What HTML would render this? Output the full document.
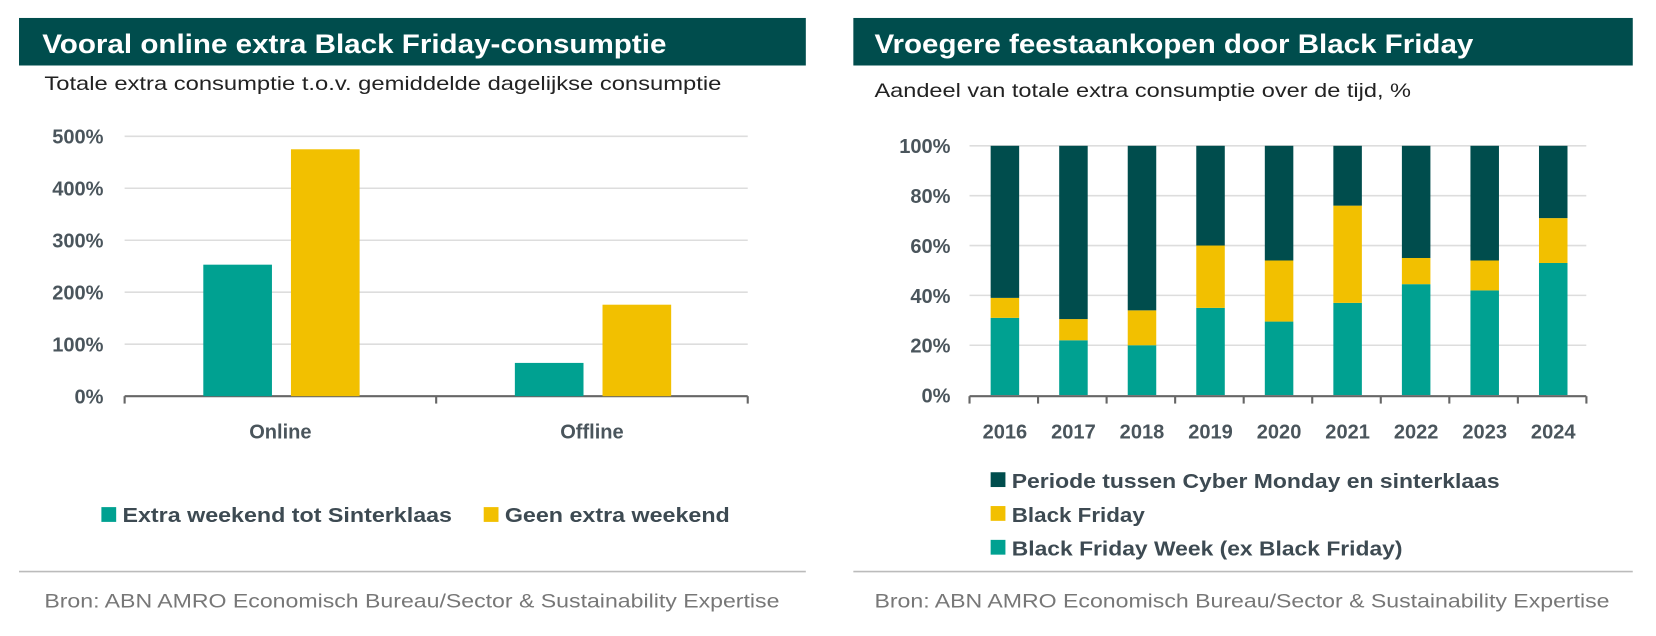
<!DOCTYPE html>
<html><head><meta charset="utf-8"><style>
body{margin:0;width:1656px;height:636px;background:#fff;font-family:"Liberation Sans",sans-serif;overflow:hidden}
svg{position:absolute;left:0;top:0}
</style></head><body>
<svg width="1656" height="636" viewBox="0 0 1568 602" preserveAspectRatio="none">
<g>
<rect x="18" y="17" width="745" height="45" fill="#004d4d"/>
<text x="40" y="50" fill="#fff" font-size="25" font-weight="bold" textLength="591" lengthAdjust="spacingAndGlyphs">Vooral online extra Black Friday-consumptie</text>
<text x="42" y="85" fill="#222" font-size="18" textLength="641" lengthAdjust="spacingAndGlyphs">Totale extra consumptie t.o.v. gemiddelde dagelijkse consumptie</text>
<g id="lg"></g>
<rect x="96" y="480" width="14" height="14" fill="#00a191"/>
<text x="116" y="494" font-size="19" font-weight="bold" fill="#3d4a52" textLength="312" lengthAdjust="spacingAndGlyphs">Extra weekend tot Sinterklaas</text>
<rect x="458" y="480" width="14" height="14" fill="#f2c000"/>
<text x="478" y="494" font-size="19" font-weight="bold" fill="#3d4a52" textLength="213" lengthAdjust="spacingAndGlyphs">Geen extra weekend</text>
<line x1="18" y1="541" x2="763" y2="541" stroke="#bbb" stroke-width="1.5"/>
<text x="42" y="575" font-size="18" fill="#777" textLength="696" lengthAdjust="spacingAndGlyphs">Bron: ABN AMRO Economisch Bureau/Sector &amp; Sustainability Expertise</text>
</g>
<g>
<rect x="808" y="17" width="738" height="45" fill="#004d4d"/>
<text x="828" y="50" fill="#fff" font-size="25" font-weight="bold" textLength="567" lengthAdjust="spacingAndGlyphs">Vroegere feestaankopen door Black Friday</text>
<text x="828" y="92" fill="#222" font-size="18" textLength="508" lengthAdjust="spacingAndGlyphs">Aandeel van totale extra consumptie over de tijd, %</text>
<g id="rg"></g>
<rect x="938" y="447" width="14" height="14" fill="#004d4d"/>
<text x="958" y="462" font-size="19" font-weight="bold" fill="#3d4a52" textLength="462" lengthAdjust="spacingAndGlyphs">Periode tussen Cyber Monday en sinterklaas</text>
<rect x="938" y="479" width="14" height="14" fill="#f2c000"/>
<text x="958" y="494" font-size="19" font-weight="bold" fill="#3d4a52" textLength="126" lengthAdjust="spacingAndGlyphs">Black Friday</text>
<rect x="938" y="511" width="14" height="14" fill="#00a191"/>
<text x="958" y="526" font-size="19" font-weight="bold" fill="#3d4a52" textLength="370" lengthAdjust="spacingAndGlyphs">Black Friday Week (ex Black Friday)</text>
<line x1="808" y1="541" x2="1546" y2="541" stroke="#bbb" stroke-width="1.5"/>
<text x="828" y="575" font-size="18" fill="#777" textLength="696" lengthAdjust="spacingAndGlyphs">Bron: ABN AMRO Economisch Bureau/Sector &amp; Sustainability Expertise</text>
</g>
</svg>
<script>
const leftCats=["Online","Offline"];
const leftExtra=[253,64];
const leftGeen=[475,176];
const leftTicks=[0,100,200,300,400,500];
const years=["2016","2017","2018","2019","2020","2021","2022","2023","2024"];
const bfWeek=[31,22,20,35,29.5,37,44.5,42,53];
const blackFriday=[8,8.5,14,25,24.5,39,10.5,12,18];
const periode=[61,69.5,66,40,46,24,45,46,29];
const rightTicks=[0,20,40,60,80,100];
const NS="http://www.w3.org/2000/svg";
function mk(p,t,a,txt){const e=document.createElementNS(NS,t);for(const k in a)e.setAttribute(k,a[k]);if(txt!=null)e.textContent=txt;p.appendChild(e);return e;}
const lg=document.getElementById('lg');
const ly=v=>375-v*(246/500);
leftTicks.forEach(t=>{
 if(t>0){const l=mk(lg,'line',{x1:118,x2:708,y1:ly(t),y2:ly(t),stroke:'#ddd','stroke-width':1.5});
 
 }
 const tx=mk(lg,'text',{x:98,y:ly(t)+7,'text-anchor':'end','font-size':19,'font-weight':'bold',fill:'#4a555c'},t+'%');
 
 
});
const la=mk(lg,'line',{x1:118,x2:708,y1:375,y2:375,stroke:'#666','stroke-width':2});


[118,413,708].forEach(x=>{const t=mk(lg,'line',{x1:x,x2:x,y1:375,y2:382,stroke:'#666','stroke-width':2});
 
 });
leftCats.forEach((c,i)=>{
 const cx=118+295*i+147.5;
 const b1=mk(lg,'rect',{x:cx-73,y:ly(leftExtra[i]),width:65,height:375-ly(leftExtra[i]),fill:'#00a191'});
 
 
 const b2=mk(lg,'rect',{x:cx+10,y:ly(leftGeen[i]),width:65,height:375-ly(leftGeen[i]),fill:'#f2c000'});
 
 
 const t=mk(lg,'text',{x:cx,y:415,'text-anchor':'middle','font-size':19,'font-weight':'bold',fill:'#4a555c'},c);
 
 
});
const rg=document.getElementById('rg');
const ry=v=>374-v*2.36;
rightTicks.forEach(t=>{
 if(t>0){const l=mk(rg,'line',{x1:918,x2:1502,y1:ry(t),y2:ry(t),stroke:'#ddd','stroke-width':1.5});
 
 }
 const tx=mk(rg,'text',{x:900,y:ry(t)+7,'text-anchor':'end','font-size':19,'font-weight':'bold',fill:'#4a555c'},t+'%');
 
 
});
years.forEach((y,i)=>{
 const x=938+64.9*i;
 let base=0;
 [[bfWeek,'#00a191','bf-week'],[blackFriday,'#f2c000','black-friday'],[periode,'#004d4d','periode']].forEach(([arr,col,n])=>{
  const v=arr[i];
  const r=mk(rg,'rect',{x:x,y:ry(base+v),width:27,height:ry(base)-ry(base+v),fill:col});
  
  
  base+=v;
 });
 const t=mk(rg,'text',{x:x+13.5,y:415,'text-anchor':'middle','font-size':19,'font-weight':'bold',fill:'#4a555c'},y);
 
 
});
const ra=mk(rg,'line',{x1:918,x2:1502,y1:375,y2:375,stroke:'#666','stroke-width':2});


for(let i=0;i<=9;i++){const t=mk(rg,'line',{x1:918+64.9*i,x2:918+64.9*i,y1:375,y2:382,stroke:'#666','stroke-width':2});
 
 }
</script>
</body></html>
